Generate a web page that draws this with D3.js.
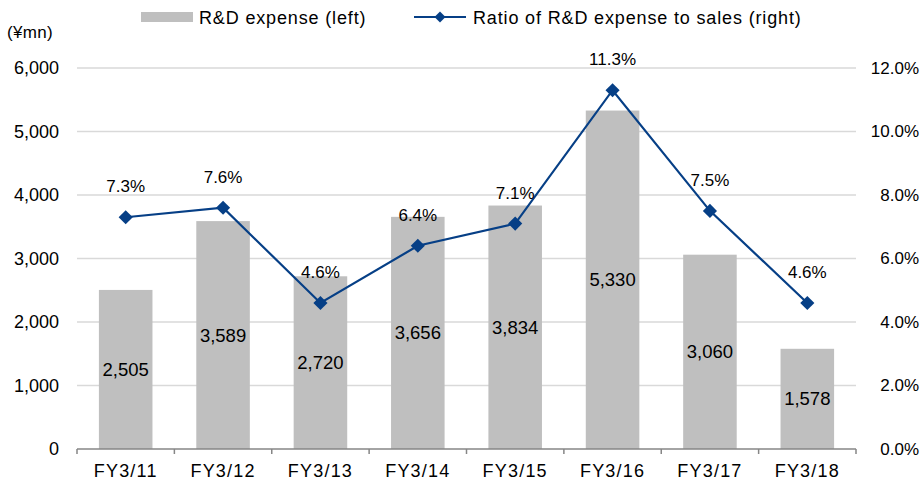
<!DOCTYPE html>
<html><head><meta charset="utf-8">
<script src="https://cdn.jsdelivr.net/npm/d3@7"></script>
<style>body{margin:0;background:#fff}svg{display:block}</style>
</head><body>
<svg id="c" width="924" height="488"></svg>
<script>
const categories = ["FY3/11","FY3/12","FY3/13","FY3/14","FY3/15","FY3/16","FY3/17","FY3/18"];
const rdExpense = [2505,3589,2720,3656,3834,5330,3060,1578];
const ratio = [7.3,7.6,4.6,6.4,7.1,11.3,7.5,4.6];
const leftTicks = [0,1000,2000,3000,4000,5000,6000];
const rightTicks = [0,2,4,6,8,10,12];
const seriesNames = ["R&D expense (left)","Ratio of R&D expense to sales (right)"];
const unitLabel = "(¥mn)";

const FONT = "'Liberation Sans', Arial, sans-serif";
const svg = d3.select("#c");
const m = {l:77, r:856, t:68, b:449};
const x = d3.scaleBand().domain(categories).range([m.l, m.r]).paddingInner(0.45).paddingOuter(0.225);
const xb = d3.scaleBand().domain(categories).range([m.l, m.r]);
const yL = d3.scaleLinear().domain([0,6000]).range([m.b, m.t]);
const yR = d3.scaleLinear().domain([0,12]).range([m.b, m.t]);
const fmt = d3.format(",");

// gridlines
svg.append("g").selectAll("line").data(leftTicks.filter(d=>d>0)).join("line")
  .attr("x1", m.l).attr("x2", m.r).attr("y1", d=>yL(d)).attr("y2", d=>yL(d))
  .attr("stroke", "#d9d9d9").attr("stroke-width", 1.5);

// left axis labels
svg.append("g").selectAll("text").data(leftTicks).join("text")
  .attr("x", 59).attr("y", d=>yL(d)).attr("dy","0.35em").attr("text-anchor","end")
  .attr("font-family", FONT).attr("font-size", 18).attr("fill","#000").text(d=>fmt(d));
// right axis labels
svg.append("g").selectAll("text").data(rightTicks).join("text")
  .attr("x", 919).attr("y", d=>yR(d)).attr("dy","0.35em").attr("text-anchor","end")
  .attr("font-family", FONT).attr("font-size", 17).attr("fill","#000").text(d=>d.toFixed(1)+"%");

svg.append("text").attr("x", 7).attr("y", 32).attr("dy","0.35em")
  .attr("font-family", FONT).attr("font-size", 17).attr("letter-spacing", 0.3).text(unitLabel);

// bars
svg.append("g").selectAll("rect").data(rdExpense).join("rect")
  .attr("x", (d,i)=>x(categories[i])).attr("width", x.bandwidth())
  .attr("y", d=>yL(d)).attr("height", d=>m.b - yL(d)).attr("fill", "#bfbfbf");

// x axis
const xa = svg.append("g");
xa.append("line").attr("x1", m.l).attr("x2", m.r).attr("y1", m.b).attr("y2", m.b)
  .attr("stroke","#868686").attr("stroke-width",1.5);
const bounds = categories.map(c=>xb(c)).concat([m.r]);
xa.selectAll("line.t").data(bounds).join("line").attr("class","t")
  .attr("x1", d=>d).attr("x2", d=>d).attr("y1", m.b).attr("y2", m.b+5)
  .attr("stroke","#868686").attr("stroke-width",1.5);
xa.selectAll("text").data(categories).join("text")
  .attr("x", d=>xb(d)+xb.bandwidth()/2).attr("y", 471).attr("dy","0.35em")
  .attr("text-anchor","middle").attr("font-family", FONT).attr("font-size", 18)
  .attr("letter-spacing", 1.2).text(d=>d);

// bar labels
svg.append("g").selectAll("text").data(rdExpense).join("text")
  .attr("x", (d,i)=>xb(categories[i])+xb.bandwidth()/2).attr("y", d=>(yL(d)+m.b)/2).attr("dy","0.35em")
  .attr("text-anchor","middle").attr("font-family", FONT).attr("font-size", 18.5).text(d=>fmt(d));

// line
const cx = (i)=>xb(categories[i])+xb.bandwidth()/2;
const lineColor = "#063f86";
svg.append("path").datum(ratio)
  .attr("d", d3.line().x((d,i)=>cx(i)).y(d=>yR(d)))
  .attr("fill","none").attr("stroke", lineColor).attr("stroke-width", 2.2);
svg.append("g").selectAll("path").data(ratio).join("path")
  .attr("transform", (d,i)=>`translate(${cx(i)},${yR(d)}) rotate(45)`)
  .attr("d", d3.symbol().type(d3.symbolSquare).size(100)).attr("fill", lineColor);
svg.append("g").selectAll("text").data(ratio).join("text")
  .attr("x", (d,i)=>cx(i)).attr("y", d=>yR(d)-31).attr("dy","0.35em")
  .attr("text-anchor","middle").attr("font-family", FONT).attr("font-size", 17).text(d=>d.toFixed(1)+"%");

// legend
const lg = svg.append("g");
lg.append("rect").attr("x",141).attr("y",12).attr("width",52).attr("height",10).attr("fill","#bfbfbf");
lg.append("text").attr("x",199).attr("y",17.5).attr("dy","0.35em").attr("font-family", FONT).attr("font-size",18)
  .attr("letter-spacing",0.85).text(seriesNames[0]);
lg.append("line").attr("x1",414).attr("x2",466).attr("y1",17).attr("y2",17).attr("stroke",lineColor).attr("stroke-width",2.2);
lg.append("path").attr("transform","translate(440,17) rotate(45)").attr("d", d3.symbol().type(d3.symbolSquare).size(60)).attr("fill",lineColor);
lg.append("text").attr("x",473).attr("y",17.5).attr("dy","0.35em").attr("font-family", FONT).attr("font-size",18)
  .attr("letter-spacing",0.85).text(seriesNames[1]);
</script>
</body></html>
